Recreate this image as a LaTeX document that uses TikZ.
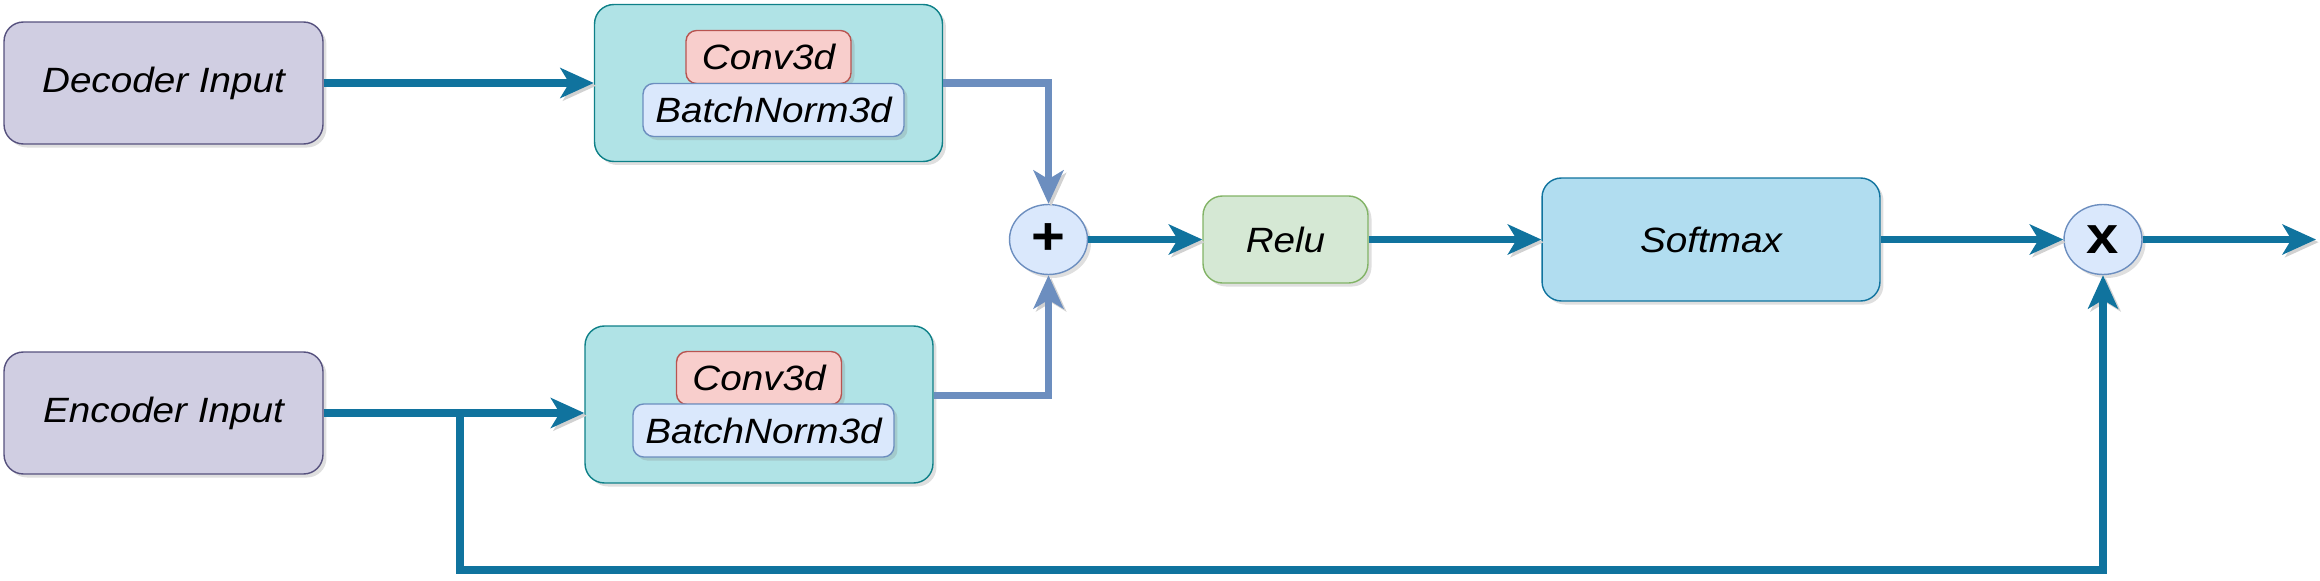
\documentclass[tikz,border=0pt]{standalone}
\usepackage{fontspec}
\setmainfont{Liberation Sans}[FakeStretch=1.1]
\usetikzlibrary{arrows.meta,positioning,calc,shapes.geometric,shadows}
\definecolor{inFill}{HTML}{D0CEE2}
\definecolor{inLine}{HTML}{56517E}
\definecolor{blockFill}{HTML}{B0E3E6}
\definecolor{blockLine}{HTML}{0E8088}
\definecolor{convFill}{HTML}{F8CECC}
\definecolor{convLine}{HTML}{B85450}
\definecolor{bnFill}{HTML}{DAE8FC}
\definecolor{bnLine}{HTML}{6C8EBF}
\definecolor{reluFill}{HTML}{D5E8D4}
\definecolor{reluLine}{HTML}{82B366}
\definecolor{softFill}{HTML}{B1DDF0}
\definecolor{wireDark}{HTML}{10739E}

\begin{document}
\begin{tikzpicture}[x=0.02cm, y=-0.02cm,
    shade/.style={drop shadow={shadow xshift=2pt, shadow yshift=-2pt, opacity=0.25}},
    box/.style={rounded corners=11pt, line width=0.8pt, inner sep=0pt, align=center,
      font=\fontsize{20}{22}\selectfont\itshape, shade},
    inbox/.style={box, fill=inFill, draw=inLine, minimum width=6.38cm, minimum height=2.44cm},
    block/.style={box, fill=blockFill, draw=blockLine, minimum width=6.96cm, minimum height=3.14cm},
    convbox/.style={box, rounded corners=6pt, fill=convFill, draw=convLine, minimum width=3.3cm, minimum height=1.06cm},
    bnbox/.style={box, rounded corners=6pt, fill=bnFill, draw=bnLine, minimum width=5.22cm, minimum height=1.06cm},
    opnode/.style={ellipse, fill=bnFill, draw=bnLine, line width=0.8pt, inner sep=0pt,
      minimum width=1.56cm, minimum height=1.4cm, font=\fontsize{30}{30}\selectfont\bfseries, shade},
    wire/.style={line width=4.4pt, draw=wireDark, -{Stealth[length=19pt,width=17pt,inset=5pt]},
      preaction={draw=black!18, transform canvas={shift={(1.5pt,-1.5pt)}}}},
    lightwire/.style={wire, draw=bnLine},
  ]
  \useasboundingbox (0,0) rectangle (2320,581);
  % Inputs
  \node[inbox] (dec) at (163.5,83) {Decoder Input};
  \node[inbox] (enc) at (163.5,413) {Encoder Input};
  % Conv blocks
  \node[block] (convA) at (768.5,83) {};
  \node[convbox] (convAc) at (768.5,57) {Conv3d};
  \node[bnbox] (convAb) at (773.5,110) {BatchNorm3d};
  \node[block] (convB) at (759,404.5) {};
  \node[convbox] (convBc) at (759,378) {Conv3d};
  \node[bnbox] (convBb) at (763.5,430.5) {BatchNorm3d};
  % Attention path
  \node[opnode] (plus) at (1048.5,239.5) {+};
  \node[box, fill=reluFill, draw=reluLine, minimum width=3.3cm, minimum height=1.74cm] (relu) at (1285.5,239.5) {Relu};
  \node[box, fill=softFill, draw=wireDark, minimum width=6.76cm, minimum height=2.46cm] (soft) at (1711,239.5) {Softmax};
  \node[opnode] (times) at (2103,239.5) {x};
  \coordinate (split) at (460,413);
  \coordinate (loop) at (460,570);
  \coordinate (out) at (2316,239.5);
  % Connectors
  \draw[wire] (dec) -- (convA);
  \draw[wire] (enc.east) -- (enc.east -| convB.west);
  \draw[wire] (split) -- (loop) -| (times.south);
  \draw[lightwire] (convA.east) -| (plus.north);
  \draw[lightwire] ($(convB.east)+(0,-9)$) -| (plus.south);
  \draw[wire] (plus) -- (relu);
  \draw[wire] (relu) -- (soft);
  \draw[wire] (soft) -- (times);
  \draw[wire] (times) -- (out);
\end{tikzpicture}
\end{document}
